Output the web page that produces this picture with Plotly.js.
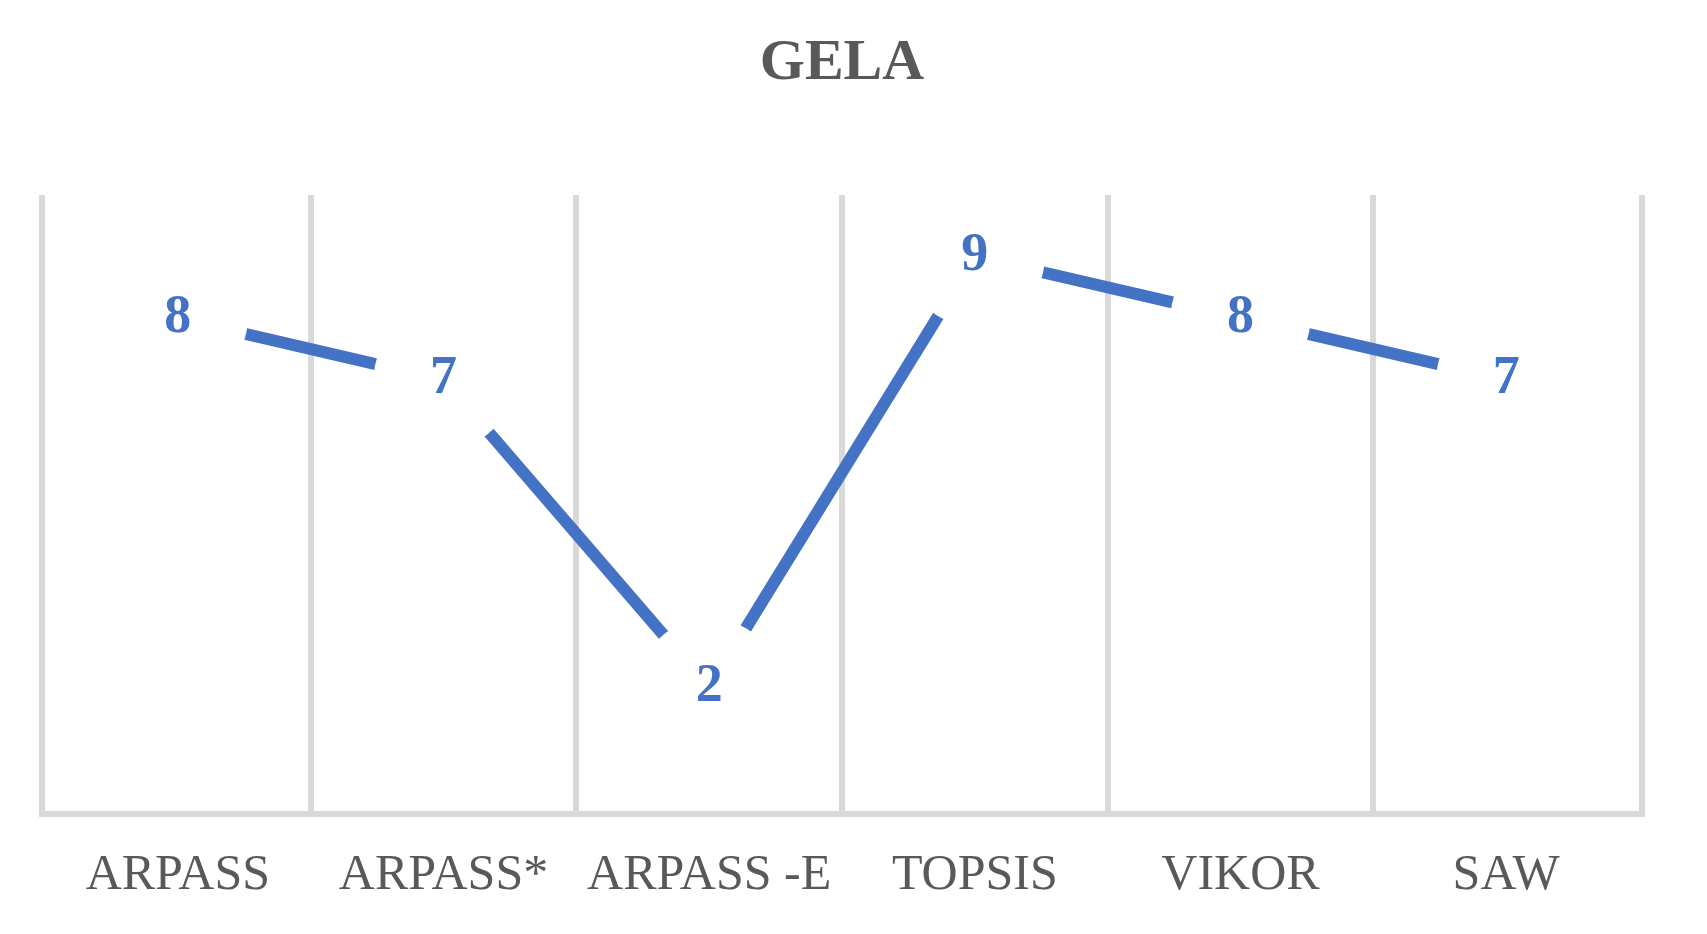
<!DOCTYPE html>
<html>
<head>
<meta charset="utf-8">
<script src="https://cdn.plot.ly/plotly-3.0.1.min.js"></script>
<style>
  html, body { margin: 0; padding: 0; background: #fff; font-family: "Liberation Serif", "Times New Roman", Times, serif; }
  #chart { width: 1707px; height: 934px; }
</style>
</head>
<body>
<div id="chart"></div>
<script>
// chart data
const methods = ['ARPASS', 'ARPASS*', 'ARPASS -E', 'TOPSIS', 'VIKOR', 'SAW'];
const gelaRanks = [8, 7, 2, 9, 8, 7];

const blue = '#4472c4';
const grey = '#d9d9d9';
const textGrey = '#595959';
const serif = 'Liberation Serif, Times New Roman, Times, serif';

const trace = {
    x: methods,
    y: gelaRanks,
    type: 'scatter',
    mode: 'lines+markers+text',
    line: { color: blue, width: 12 },
    // white discs give the gap in the line round each label
    marker: { color: '#ffffff', size: 140, line: { width: 0 } },
    texttemplate: '<b>%{y}</b>',
    textposition: 'middle center',
    textfont: { family: serif, size: 54, color: blue },
    hoverinfo: 'skip',
    showlegend: false
};

const layout = {
    width: 1707,
    height: 934,
    margin: { l: 45, r: 68, t: 195, b: 123 },
    paper_bgcolor: '#ffffff',
    plot_bgcolor: '#ffffff',
    font: { family: serif },
    title: {
        text: '<b>GELA</b>',
        font: { family: serif, size: 58, color: textGrey },
        xref: 'paper', x: 0.5, xanchor: 'center',
        yref: 'container', y: 0.937, yanchor: 'middle'
    },
    xaxis: {
        type: 'category',
        range: [-0.5, methods.length - 0.5],
        tickson: 'boundaries',
        showgrid: true,
        gridcolor: grey,
        gridwidth: 6,
        showline: true,
        linecolor: grey,
        linewidth: 6,
        ticks: '',
        ticklabelstandoff: 12,
        tickfont: { family: serif, size: 50, color: textGrey },
        zeroline: false,
        fixedrange: true
    },
    yaxis: {
        range: [0, 10],
        showgrid: false,
        zeroline: false,
        showticklabels: false,
        showline: true,
        mirror: true,
        linecolor: grey,
        linewidth: 6,
        ticks: '',
        fixedrange: true
    }
};

Plotly.newPlot('chart', [trace], layout, { displayModeBar: false, staticPlot: true });
</script>
</body>
</html>
